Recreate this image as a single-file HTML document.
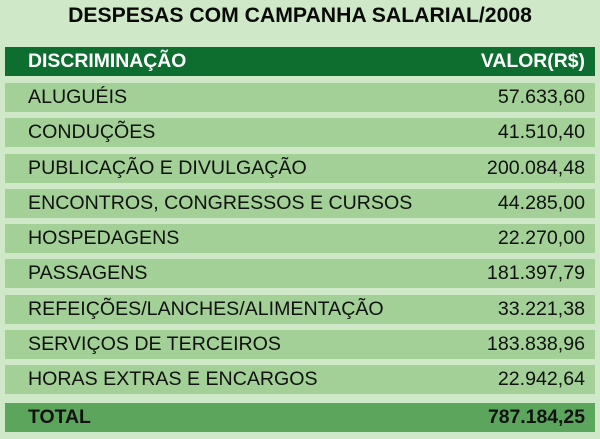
<!DOCTYPE html>
<html><head><style>
body{margin:0;width:600px;height:439px;background:#cfe8c7;font-family:"Liberation Sans",Arial,sans-serif;position:relative;overflow:hidden}
.t{position:absolute;top:4px;left:0;width:600px;text-align:center;font-weight:bold;font-size:21.2px;color:#0a0a0a}
.r{position:absolute;left:5px;width:590px;height:29px;background:#a2d096;font-size:19.6px;color:#111;line-height:29px}
.r span{position:absolute;left:23px}
.r b,.r i{position:absolute;right:10px;font-style:normal;font-weight:normal}
.h{background:#0d6e2f;color:#fff;font-weight:bold;font-size:19.4px}
.h span,.h i{font-weight:bold}
.tot{background:#5ba65c;font-weight:bold;font-size:19.4px}
.tot span,.tot i{font-weight:bold}
</style></head><body>
<div class="t">DESPESAS COM CAMPANHA SALARIAL/2008</div>
<div class="r h" style="top:47px"><span>DISCRIMINAÇÃO</span><i>VALOR(R$)</i></div>
<div class="r" style="top:83px"><span>ALUGUÉIS</span><i>57.633,60</i></div>
<div class="r" style="top:118px"><span>CONDUÇÕES</span><i>41.510,40</i></div>
<div class="r" style="top:154px"><span>PUBLICAÇÃO E DIVULGAÇÃO</span><i>200.084,48</i></div>
<div class="r" style="top:189px"><span>ENCONTROS, CONGRESSOS E CURSOS</span><i>44.285,00</i></div>
<div class="r" style="top:224px"><span>HOSPEDAGENS</span><i>22.270,00</i></div>
<div class="r" style="top:259px"><span>PASSAGENS</span><i>181.397,79</i></div>
<div class="r" style="top:295px"><span>REFEIÇÕES/LANCHES/ALIMENTAÇÃO</span><i>33.221,38</i></div>
<div class="r" style="top:330px"><span>SERVIÇOS DE TERCEIROS</span><i>183.838,96</i></div>
<div class="r" style="top:365px"><span>HORAS EXTRAS E ENCARGOS</span><i>22.942,64</i></div>
<div class="r tot" style="top:403px"><span>TOTAL</span><i>787.184,25</i></div>
</body></html>
